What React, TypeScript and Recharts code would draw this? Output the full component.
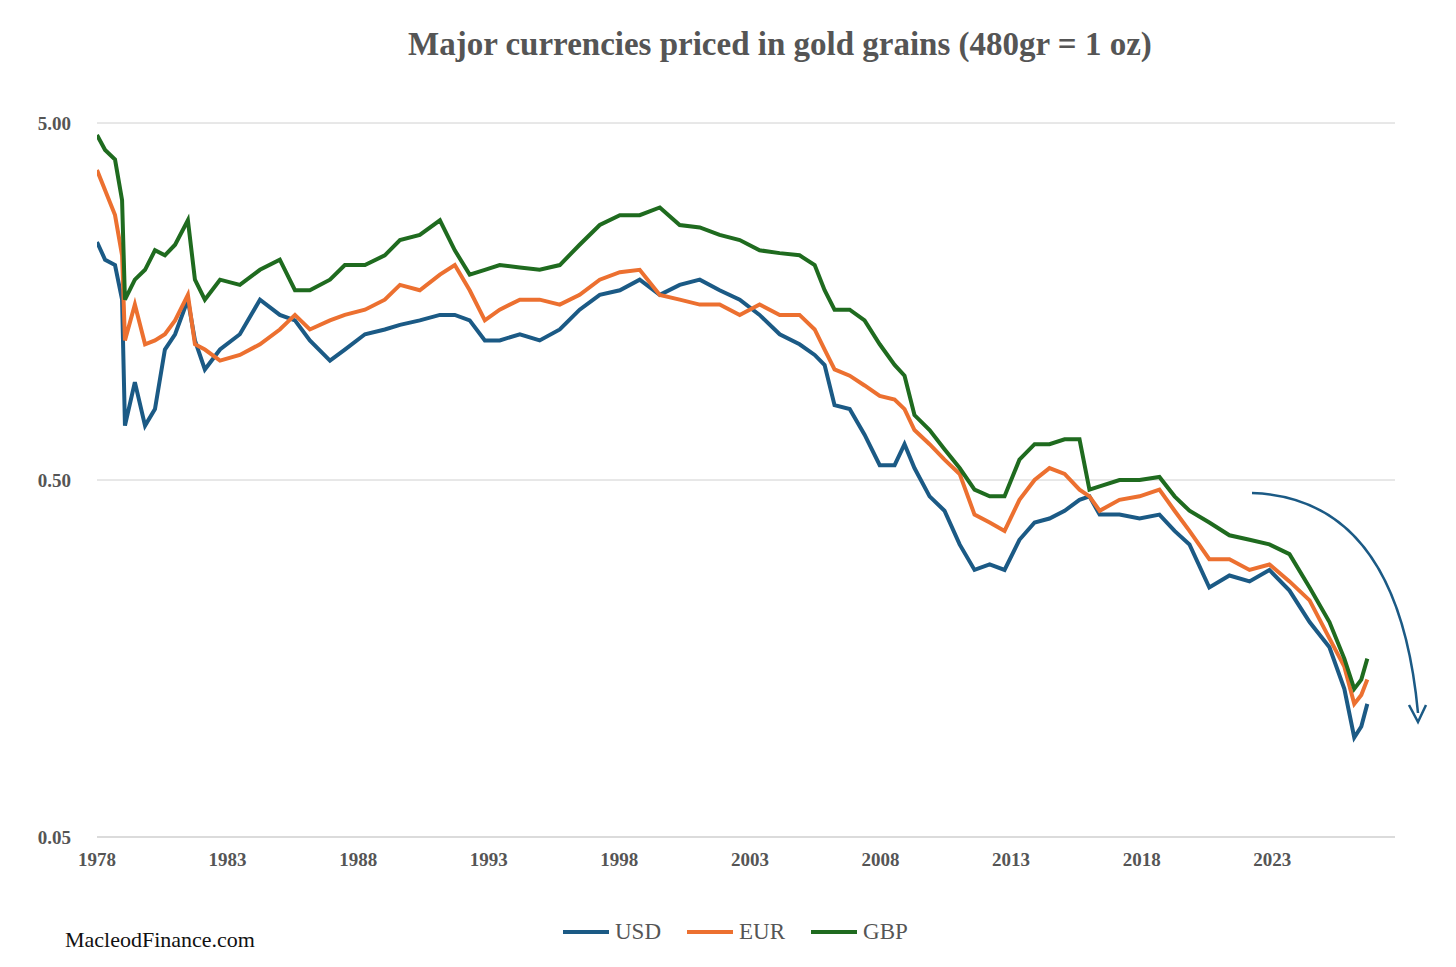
import { LineChart, Line, XAxis, YAxis, CartesianGrid } from "recharts";

const years = [
  1978.0, 1978.31, 1978.69, 1978.96, 1979.07, 1979.45, 1979.84, 1980.22, 1980.6, 1980.99,
  1981.48, 1981.75, 1982.13, 1982.71, 1983.47, 1984.24, 1985.0, 1985.58, 1986.15, 1986.92,
  1987.49, 1988.26, 1989.02, 1989.6, 1990.36, 1991.13, 1991.7, 1992.27, 1992.85, 1993.42,
  1994.19, 1994.95, 1995.72, 1996.48, 1997.25, 1998.02, 1998.78, 1999.55, 2000.31, 2001.08,
  2001.84, 2002.61, 2003.37, 2004.14, 2004.9, 2005.48, 2005.86, 2006.24, 2006.82, 2007.39,
  2007.97, 2008.54, 2008.92, 2009.3, 2009.88, 2010.45, 2011.03, 2011.6, 2012.18, 2012.75,
  2013.32, 2013.9, 2014.47, 2015.05, 2015.62, 2016.0, 2016.39, 2017.15, 2017.92, 2018.68,
  2019.26, 2019.83, 2020.59, 2021.36, 2022.13, 2022.89, 2023.66, 2024.43, 2025.19, 2025.76,
  2026.14, 2026.41, 2026.64,
];

const usd = [
  2.32, 2.07, 2.0, 1.6, 0.71, 0.94, 0.71, 0.79, 1.16, 1.28,
  1.6, 1.23, 1.02, 1.16, 1.28, 1.6, 1.45, 1.4, 1.23, 1.08,
  1.16, 1.28, 1.32, 1.36, 1.4, 1.45, 1.45, 1.4, 1.23, 1.23,
  1.28, 1.23, 1.32, 1.5, 1.65, 1.7, 1.82, 1.65, 1.76, 1.82,
  1.7, 1.6, 1.45, 1.28, 1.2, 1.12, 1.05, 0.81, 0.79, 0.67,
  0.55, 0.55, 0.63, 0.54, 0.45, 0.41, 0.33, 0.28, 0.29, 0.28,
  0.34, 0.38, 0.39, 0.41, 0.44, 0.45, 0.4, 0.4, 0.39, 0.4,
  0.36, 0.33, 0.25, 0.27, 0.26, 0.28, 0.245, 0.2, 0.17, 0.13,
  0.095, 0.102, 0.118,
];

const eur = [
  3.69, 3.24, 2.76, 2.13, 1.23, 1.55, 1.2, 1.23, 1.28, 1.4,
  1.65, 1.2, 1.16, 1.08, 1.12, 1.2, 1.32, 1.45, 1.32, 1.4,
  1.45, 1.5, 1.6, 1.76, 1.7, 1.88, 2.0, 1.7, 1.4, 1.5,
  1.6, 1.6, 1.55, 1.65, 1.82, 1.91, 1.94, 1.65, 1.6, 1.55,
  1.55, 1.45, 1.55, 1.45, 1.45, 1.32, 1.16, 1.02, 0.98, 0.92,
  0.86, 0.84, 0.79, 0.69, 0.63, 0.57, 0.52, 0.4, 0.38, 0.36,
  0.44, 0.5, 0.54, 0.52, 0.47, 0.45, 0.41, 0.44, 0.45, 0.47,
  0.41, 0.36, 0.3, 0.3, 0.28, 0.29, 0.26, 0.23, 0.18, 0.15,
  0.118, 0.125, 0.138,
];

const gbp = [
  4.63, 4.2, 3.95, 3.04, 1.6, 1.82, 1.94, 2.2, 2.13, 2.28,
  2.67, 1.82, 1.6, 1.82, 1.76, 1.94, 2.07, 1.7, 1.7, 1.82,
  2.0, 2.0, 2.13, 2.35, 2.43, 2.67, 2.2, 1.88, 1.94, 2.0,
  1.97, 1.94, 2.0, 2.28, 2.59, 2.76, 2.76, 2.9, 2.59, 2.55,
  2.43, 2.35, 2.2, 2.16, 2.13, 2.0, 1.7, 1.5, 1.5, 1.4,
  1.2, 1.05, 0.98, 0.76, 0.69, 0.61, 0.54, 0.47, 0.45, 0.45,
  0.57, 0.63, 0.63, 0.65, 0.65, 0.47, 0.48, 0.5, 0.5, 0.51,
  0.45, 0.41, 0.38, 0.35, 0.34, 0.33, 0.31, 0.25, 0.2, 0.158,
  0.13, 0.138, 0.158,
];

const xTicks = [1978, 1983, 1988, 1993, 1998, 2003, 2008, 2013, 2018, 2023];
const yTicks = [0.05, 0.5, 5];

const series = [
  { key: "usd", name: "USD", color: "#1b5a85" },
  { key: "eur", name: "EUR", color: "#ec7030" },
  { key: "gbp", name: "GBP", color: "#1f6b1f" },
];

const data = years.map((year, i) => ({ year, usd: usd[i], eur: eur[i], gbp: gbp[i] }));

const font = "'Liberation Serif', 'DejaVu Serif', serif";
const tickStyle = { fill: "#555", fontSize: 19, fontWeight: 700, fontFamily: font };

export default function App() {
  return (
    <div style={{ position: "relative", width: 1440, height: 960, fontFamily: font, background: "#fff" }}>
      <div
        style={{
          position: "absolute",
          top: 18,
          left: 400,
          fontSize: 33,
          fontWeight: 700,
          color: "#555",
          whiteSpace: "nowrap",
        }}
      >
        Major currencies priced in gold grains (480gr = 1 oz)
      </div>
      <LineChart width={1440} height={960} data={data} margin={{ top: 115, right: 53, bottom: 101, left: 29 }}>
        <CartesianGrid vertical={false} stroke="#d0d0d0" />
        <XAxis
          dataKey="year"
          type="number"
          domain={[1978, 2027.7]}
          ticks={xTicks}
          tick={tickStyle}
          tickLine={false}
          axisLine={{ stroke: "#cfcfcf" }}
          tickMargin={10}
          allowDataOverflow
        />
        <YAxis
          scale="log"
          domain={[0.05, 5]}
          ticks={yTicks}
          tick={tickStyle}
          tickFormatter={(v: number) => v.toFixed(2)}
          axisLine={false}
          tickLine={false}
          tickMargin={20}
          width={60}
          allowDataOverflow
        />
        {series.map((s) => (
          <Line
            key={s.key}
            dataKey={s.key}
            name={s.name}
            stroke={s.color}
            strokeWidth={4}
            dot={false}
            isAnimationActive={false}
          />
        ))}
      </LineChart>
      <svg style={{ position: "absolute", left: 0, top: 0 }} width={1440} height={960}>
        <path d="M1244 485 Q1390 490 1410 705" fill="none" stroke="#1b5a85" strokeWidth={2.5} />
        <path d="M1401 697 L1410 714 L1418 697" fill="none" stroke="#1b5a85" strokeWidth={2.5} />
      </svg>
      <div
        style={{
          position: "absolute",
          top: 911,
          left: 555,
          display: "flex",
          gap: 26,
          fontSize: 23,
          color: "#555",
        }}
      >
        {series.map((s) => (
          <div key={s.key} style={{ display: "flex", alignItems: "center", gap: 6 }}>
            <span style={{ width: 46, height: 4, background: s.color, display: "inline-block" }} />
            {s.name}
          </div>
        ))}
      </div>
      <div style={{ position: "absolute", top: 919, left: 57, fontSize: 22, color: "#111" }}>
        MacleodFinance.com
      </div>
    </div>
  );
}
